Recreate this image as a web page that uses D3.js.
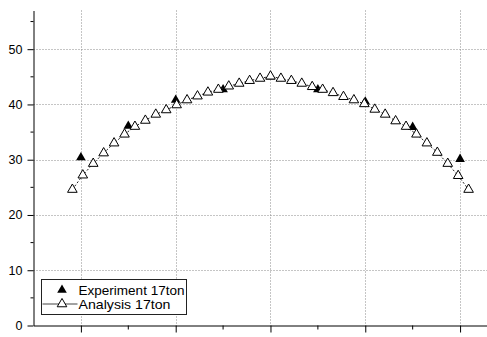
<!DOCTYPE html>
<html>
<head>
<meta charset="utf-8">
<script src="https://cdn.jsdelivr.net/npm/d3@7"></script>
<style>
    html, body { margin: 0; padding: 0; background: #fff; }
    svg { display: block; font-family: Arial, "Liberation Sans", sans-serif; }
    .grid line { stroke: #8a8a8a; stroke-width: 1; stroke-dasharray: 1,2; }
    .axis path, .axis line { stroke: #000; stroke-width: 1; }
    .axis text { font-size: 12.5px; fill: #000; }
</style>
</head>
<body>
<div id="chart"></div>
<script>
// analysis curve (open triangles)
const analysisX = [-0.9, 0.2, 1.3, 2.4, 3.5, 4.6, 5.7, 6.8, 7.9, 9.0, 10.1, 11.2, 12.3, 13.4, 14.5, 15.6, 16.7, 17.8, 18.9, 20.0,
    21.1, 22.2, 23.3, 24.4, 25.5, 26.6, 27.7, 28.8, 29.9, 31.0, 32.1, 33.2, 34.3, 35.4, 36.5, 37.6, 38.7, 39.8, 40.9]
const analysisY = [24.6, 27.2, 29.3, 31.2, 33.0, 34.6, 36.0, 37.1, 38.2, 39.0, 39.9, 40.8, 41.5, 42.2, 42.7, 43.3, 43.8, 44.3, 44.7, 45.1,
    44.7, 44.3, 43.8, 43.2, 42.7, 42.1, 41.4, 40.8, 40.1, 39.1, 38.2, 37.0, 36.0, 34.6, 33.0, 31.3, 29.3, 27.1, 24.6]

// experiment (filled triangles)
const experimentX = [0, 5, 10, 15, 20, 25, 30, 35, 40]
const experimentY = [30.4, 36.1, 40.8, 42.7, 45.0, 42.7, 40.5, 35.9, 30.1]

const xMajorTicks = [0, 10, 20, 30, 40]
const xMinorTicks = [5, 15, 25, 35]
const yMajorTicks = [0, 10, 20, 30, 40, 50]
const yMinorTicks = [5, 15, 25, 35, 45, 55]
const yGridTicks = [10, 20, 30, 40, 50]

const legendLabels = ['Experiment 17ton', 'Analysis 17ton']

const W = 487, H = 337
const svg = d3.select('#chart').append('svg')
    .attr('width', W)
    .attr('height', H)

const xScale = d3.scaleLinear().domain([-5, 43]).range([33.5, 488.5])
const yScale = d3.scaleLinear().domain([0, 57]).range([325.5, 10.5])

const analysis = analysisX.map((x, i) => ({ x, y: analysisY[i] }))
const experiment = experimentX.map((x, i) => ({ x, y: experimentY[i] }))

// grid
const grid = svg.append('g').classed('grid', true)
grid.selectAll()
    .data(xMajorTicks)
    .enter()
    .append('line')
        .attr('x1', (d) => Math.round(xScale(d)) + 0.5)
        .attr('x2', (d) => Math.round(xScale(d)) + 0.5)
        .attr('y1', yScale.range()[1])
        .attr('y2', yScale(0))
grid.selectAll()
    .data(yGridTicks)
    .enter()
    .append('line')
        .attr('x1', xScale.range()[0])
        .attr('x2', W)
        .attr('y1', (d) => Math.round(yScale(d)) + 0.5)
        .attr('y2', (d) => Math.round(yScale(d)) + 0.5)

const tri = d3.symbol().type(d3.symbolTriangle).size(40)

// experiment markers
svg.append('g').selectAll()
    .data(experiment)
    .enter()
    .append('path')
        .attr('d', tri)
        .attr('transform', (d) => `translate(${xScale(d.x)},${yScale(d.y)})`)
        .attr('fill', '#000')

// analysis line + markers
const line = d3.line().x((d) => xScale(d.x)).y((d) => yScale(d.y))
svg.append('path')
    .datum(analysis)
    .attr('d', line)
    .attr('fill', 'none')
    .attr('stroke', '#222')
    .attr('stroke-width', 1)
    .attr('stroke-dasharray', '2,2')

svg.append('g').selectAll()
    .data(analysis)
    .enter()
    .append('path')
        .attr('d', tri)
        .attr('transform', (d) => `translate(${xScale(d.x)},${yScale(d.y)})`)
        .attr('fill', '#fff')
        .attr('stroke', '#000')
        .attr('stroke-width', 1)

// axes
const yAxis = svg.append('g')
    .classed('axis', true)
    .attr('transform', 'translate(' + xScale.range()[0] + ',0)')
    .call(d3.axisLeft(yScale).tickValues(yMajorTicks).tickSize(6).tickSizeOuter(0).tickPadding(5).tickFormat(d3.format('d')))
yAxis.selectAll()
    .data(yMinorTicks)
    .enter()
    .append('line')
        .attr('x1', 0)
        .attr('x2', -3)
        .attr('y1', (d) => yScale(d))
        .attr('y2', (d) => yScale(d))

const xAxis = svg.append('g')
    .classed('axis', true)
    .attr('transform', 'translate(0,' + yScale(0) + ')')
    .call(d3.axisBottom(xScale).tickValues(xMajorTicks).tickSize(7).tickSizeOuter(0).tickFormat(''))
xAxis.selectAll()
    .data(xMinorTicks)
    .enter()
    .append('line')
        .attr('x1', (d) => xScale(d))
        .attr('x2', (d) => xScale(d))
        .attr('y1', 0)
        .attr('y2', 4)

// legend
const legend = svg.append('g').attr('transform', 'translate(41.5,279.5)')
legend.append('rect')
    .attr('width', 145)
    .attr('height', 35)
    .attr('fill', '#fff')
    .attr('stroke', '#222')
    .attr('stroke-width', 1)

const rows = legend.selectAll()
    .data(legendLabels)
    .enter()
    .append('g')
        .attr('transform', (d, i) => `translate(0,${10.5 + i * 14})`)

rows.filter((d, i) => i === 1)
    .append('line')
        .attr('x1', 1)
        .attr('x2', 36)
        .attr('stroke', '#444')
        .attr('stroke-width', 1)

rows.append('path')
    .attr('d', tri)
    .attr('transform', 'translate(20.5,0)')
    .attr('fill', (d, i) => i === 0 ? '#000' : '#fff')
    .attr('stroke', '#000')
    .attr('stroke-width', (d, i) => i === 0 ? 0 : 1)

rows.append('text')
    .attr('x', 37)
    .attr('dy', '0.36em')
    .attr('font-size', '13px')
    .attr('textLength', (d, i) => i === 0 ? 106 : 92)
    .attr('lengthAdjust', 'spacingAndGlyphs')
    .text((d) => d)
</script>
</body>
</html>
